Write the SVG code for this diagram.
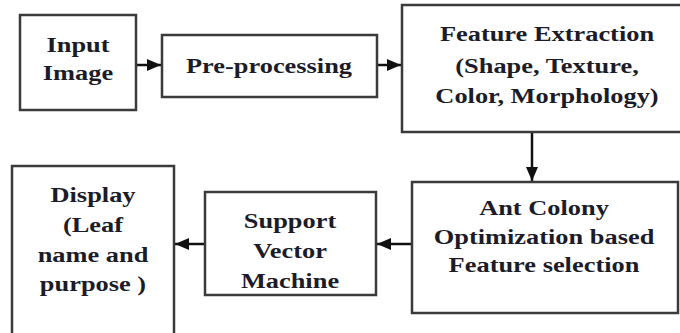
<svg xmlns="http://www.w3.org/2000/svg" width="680" height="333" viewBox="0 0 680 333">
<style>
.box{fill:#fff;stroke:#3a3a3a;stroke-width:2.5}
.t{font-weight:bold;font-size:20px;fill:#1c1c28;text-anchor:middle}
.c{stroke:#111;stroke-width:2.5;fill:none}
</style>
<defs>
<marker id="ah" markerUnits="userSpaceOnUse" markerWidth="16" markerHeight="14" viewBox="0 0 16 14" refX="15" refY="7" orient="auto">
<path d="M1,1 L15,7 L1,13 Z" fill="#111"/>
</marker>
</defs>
<rect width="680" height="333" fill="#fff"/>
<g id="connectors">
<line class="c" x1="136" y1="65" x2="161" y2="65" marker-end="url(#ah)"/>
<line class="c" x1="377" y1="65" x2="401" y2="65" marker-end="url(#ah)"/>
<line class="c" x1="532" y1="132" x2="532" y2="181" marker-end="url(#ah)"/>
<line class="c" x1="412" y1="244" x2="377" y2="244" marker-end="url(#ah)"/>
<line class="c" x1="205" y1="244" x2="175" y2="244" marker-end="url(#ah)"/>
</g>
<g font-family="Liberation Serif, Times New Roman, serif">
<g id="input">
<rect class="box" x="20" y="15" width="116" height="95"/>
<text class="t" transform="translate(78,52) scale(1.32,1)">Input</text>
<text class="t" transform="translate(78,80) scale(1.32,1)">Image</text>
</g>
<g id="preprocessing">
<rect class="box" x="162" y="35" width="215" height="62"/>
<text class="t" transform="translate(269,73) scale(1.32,1)">Pre-processing</text>
</g>
<g id="feature-extraction">
<rect class="box" x="402" y="5" width="290" height="127"/>
<text class="t" transform="translate(547,41) scale(1.32,1)">Feature Extraction</text>
<text class="t" transform="translate(547,73) scale(1.32,1)">(Shape, Texture,</text>
<text class="t" transform="translate(547,103) scale(1.32,1)">Color, Morphology)</text>
</g>
<g id="aco">
<rect class="box" x="412" y="182" width="266" height="131"/>
<text class="t" transform="translate(544,215) scale(1.32,1)">Ant Colony</text>
<text class="t" transform="translate(544,244) scale(1.32,1)">Optimization based</text>
<text class="t" transform="translate(544,272) scale(1.32,1)">Feature selection</text>
</g>
<g id="svm">
<rect class="box" x="205" y="192" width="171" height="103"/>
<text class="t" transform="translate(290,228) scale(1.32,1)">Support</text>
<text class="t" transform="translate(290,258) scale(1.32,1)">Vector</text>
<text class="t" transform="translate(290,288) scale(1.32,1)">Machine</text>
</g>
<g id="display">
<rect class="box" x="12" y="166" width="162" height="180"/>
<text class="t" transform="translate(93,202) scale(1.32,1)">Display</text>
<text class="t" transform="translate(93,232) scale(1.32,1)">(Leaf</text>
<text class="t" transform="translate(93,262) scale(1.32,1)">name and</text>
<text class="t" transform="translate(93,291) scale(1.32,1)">purpose )</text>
</g>
</g>
</svg>
